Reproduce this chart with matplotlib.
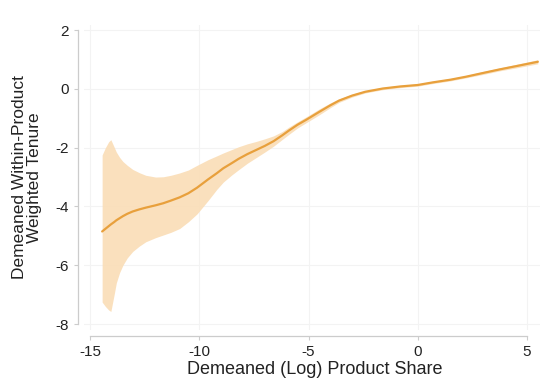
import numpy as np
import matplotlib
matplotlib.use("Agg")
import matplotlib.pyplot as plt

plt.rcParams['font.family'] = ['Liberation Sans', 'DejaVu Sans']

# Local polynomial fit of tenure on product share, with 95% band
share = [-14.45, -14.3, -14.15, -14.05, -13.9, -13.8, -13.65, -13.5, -13.3, -13.05,
         -12.75, -12.45, -12.0, -11.65, -11.3, -10.9, -10.5, -10.1, -9.6, -9.2,
         -8.9, -8.5, -8.2, -7.8, -7.4, -7.0, -6.6, -6.2, -5.9, -5.5,
         -5.1, -4.5, -4.0, -3.6, -3.0, -2.4, -1.6, -0.8, 0.0, 0.7,
         1.5, 2.2, 3.0, 3.75, 4.5, 5.5]
tenure = [-4.85, -4.76, -4.67, -4.61, -4.53, -4.47, -4.40, -4.33, -4.25, -4.17,
          -4.10, -4.04, -3.96, -3.89, -3.80, -3.69, -3.55, -3.36, -3.08, -2.87,
          -2.70, -2.52, -2.38, -2.22, -2.08, -1.94, -1.78, -1.58, -1.42, -1.22,
          -1.05, -0.78, -0.56, -0.40, -0.23, -0.10, 0.01, 0.08, 0.13, 0.22,
          0.31, 0.41, 0.54, 0.66, 0.77, 0.92]
upper = [-2.25, -2.00, -1.80, -1.73, -1.98, -2.15, -2.33, -2.47, -2.60, -2.74,
         -2.85, -2.94, -3.00, -2.99, -2.94, -2.86, -2.76, -2.60, -2.41, -2.28,
         -2.18, -2.06, -1.97, -1.87, -1.79, -1.70, -1.60, -1.45, -1.30, -1.12,
         -0.95, -0.68, -0.48, -0.34, -0.18, -0.06, 0.05, 0.12, 0.17, 0.26,
         0.35, 0.45, 0.59, 0.71, 0.83, 0.99]
lower = [-7.25, -7.40, -7.52, -7.57, -7.00, -6.60, -6.25, -6.00, -5.75, -5.53,
         -5.35, -5.20, -5.06, -4.97, -4.88, -4.75, -4.52, -4.25, -3.80, -3.42,
         -3.17, -2.92, -2.75, -2.53, -2.34, -2.15, -1.95, -1.72, -1.55, -1.33,
         -1.15, -0.88, -0.64, -0.46, -0.28, -0.14, -0.03, 0.04, 0.09, 0.18,
         0.27, 0.37, 0.49, 0.61, 0.71, 0.85]

x_ticks = [-15, -10, -5, 0, 5]
y_ticks = [-8, -6, -4, -2, 0, 2]

line_color = '#E8A03C'
band_color = '#FADDB6'

fig = plt.figure(figsize=(5.45, 3.83), dpi=100)
W, H = 545, 383
ax = fig.add_axes([84 / W, 1 - 330 / H, (540 - 84) / W, (330 - 25) / H])

ax.fill_between(share, lower, upper, color=band_color, linewidth=0, alpha=0.9)
ax.plot(share, tenure, color=line_color, linewidth=1.6,
        solid_joinstyle='round', solid_capstyle='round')

ax.set_xlim(-15.28, 5.6)
ax.set_ylim(-8.2, 2.17)
ax.set_xticks(x_ticks)
ax.set_yticks(y_ticks)
ax.set_xticklabels([str(v) for v in x_ticks])
ax.set_yticklabels([str(v) for v in y_ticks])

ax.grid(True, color='#f3f3f3', linewidth=0.8)
ax.set_axisbelow(True)

for side in ('top', 'right'):
    ax.spines[side].set_visible(False)
for side in ('left', 'bottom'):
    ax.spines[side].set_color('#cccccc')
    ax.spines[side].set_linewidth(0.9)
    ax.spines[side].set_position(('outward', 4))
ax.spines['left'].set_bounds(-8, 2)
ax.spines['bottom'].set_bounds(-15, 5)

ax.tick_params(axis='both', colors='#cccccc', labelcolor='#222222',
               labelsize=11, length=3, width=0.8, pad=4)

ax.set_xlabel('Demeaned (Log) Product Share', fontsize=13, color='#222222')
ax.xaxis.set_label_coords((315 - 84) / (540 - 84), -0.1)
ax.set_ylabel('Demeaned Within-Product\nWeighted Tenure', fontsize=12.5,
              color='#222222', linespacing=0.98)
ax.yaxis.set_label_coords((42 - 84) / (540 - 84), 0.5)

fig.savefig('out.png', dpi=100, facecolor='white')
